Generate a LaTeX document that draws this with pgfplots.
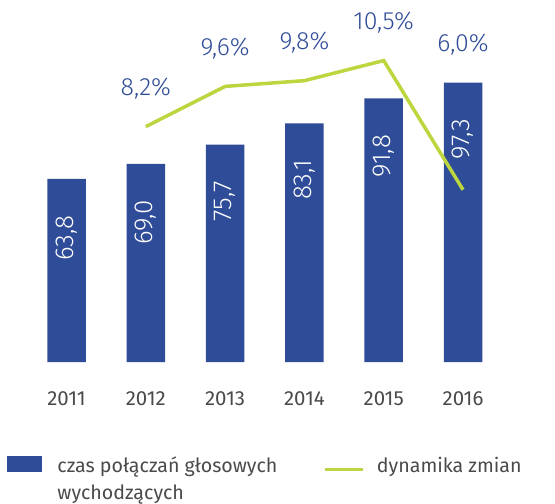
\documentclass[border=0pt]{standalone}
\usepackage{pgfplots}
\pgfplotsset{compat=1.18}
\usepackage{fontspec}
\setmainfont{Fira Sans}
\newfontfamily\light{Fira Sans Light}
\definecolor{barblue}{HTML}{2F4C98}
\definecolor{linegreen}{HTML}{BBD63F}
\definecolor{yeargray}{HTML}{4A4A4A}
\begin{document}
\begin{tikzpicture}
\useasboundingbox (0bp,-142bp) rectangle (555bp,362bp);
\begin{axis}[
  at={(0bp,0bp)}, anchor=south west,
  scale only axis,
  width=555bp, height=362bp,
  xmin=-0.839, xmax=6.16,
  ymin=0, ymax=126.1,
  axis lines=none,
  clip=false,
  xtick=\empty, ytick=\empty,
  /pgf/number format/assume math mode=true,
  legend columns=2,
  legend style={draw=none, fill=none, at={(axis description cs:0.0077,-0.25)}, anchor=north west,
    font=\fontsize{19.7}{23}\selectfont, text=yeargray,
    /tikz/every even column/.append style={column sep=44bp}},
  legend cell align=left,
]
\addplot[ybar, bar width=38.5bp, fill=barblue, draw=none,
  nodes near coords={\pgfmathprintnumber[fixed, fixed zerofill, precision=1, use comma]{\pgfplotspointmeta}},
  nodes near coords style={text=white, font=\light\fontsize{26}{28}\selectfont, yshift=-33bp, rotate=90, anchor=east},
  legend image code/.code={\fill[barblue] (0bp,-7bp) rectangle (35bp,9bp);\path (48bp,0bp);}
] coordinates {(0,63.8) (1,69.0) (2,75.7) (3,83.1) (4,91.8) (5,97.3)};
\addlegendentry{\begin{tabular}[t]{@{}l@{}}czas połączań głosowych\\[4bp]wychodzących\end{tabular}}
\addlegendimage{linegreen, line width=3.5bp, legend image code/.code={\draw[linegreen, line width=3.5bp] (0bp,-4bp) -- (38bp,-4bp);\path (48bp,0bp);}}
\addlegendentry{dynamika zmian}
\foreach \yr [count=\i from 0] in {2011,2012,2013,2014,2015,2016} {
  \edef\tmp{\noexpand\node[text=yeargray, font=\noexpand\fontsize{20.5}{22}\noexpand\selectfont] at (axis cs:\i,0) [yshift=-37bp] {\yr};}
  \tmp
}
\end{axis}
\begin{axis}[
  at={(0bp,0bp)}, anchor=south west,
  scale only axis,
  width=555bp, height=362bp,
  xmin=-0.839, xmax=6.16,
  ymin=0, ymax=12.61,
  axis lines=none,
  clip=false,
  xtick=\empty, ytick=\empty,
  /pgf/number format/assume math mode=true,
]
\addplot[linegreen, line width=3.5bp, mark=none,
  nodes near coords={\pgfmathprintnumber[fixed, fixed zerofill, precision=1, use comma]{\pgfplotspointmeta}\%},
  nodes near coords style={text=barblue, font=\light\fontsize{25}{27}\selectfont, anchor=center, yshift=38bp},
  coordinate style/.condition={x==5}{yshift=107bp},
] coordinates {(1,8.2) (2,9.6) (3,9.8) (4,10.5) (5,6.0)};
\end{axis}
\end{tikzpicture}
\end{document}
